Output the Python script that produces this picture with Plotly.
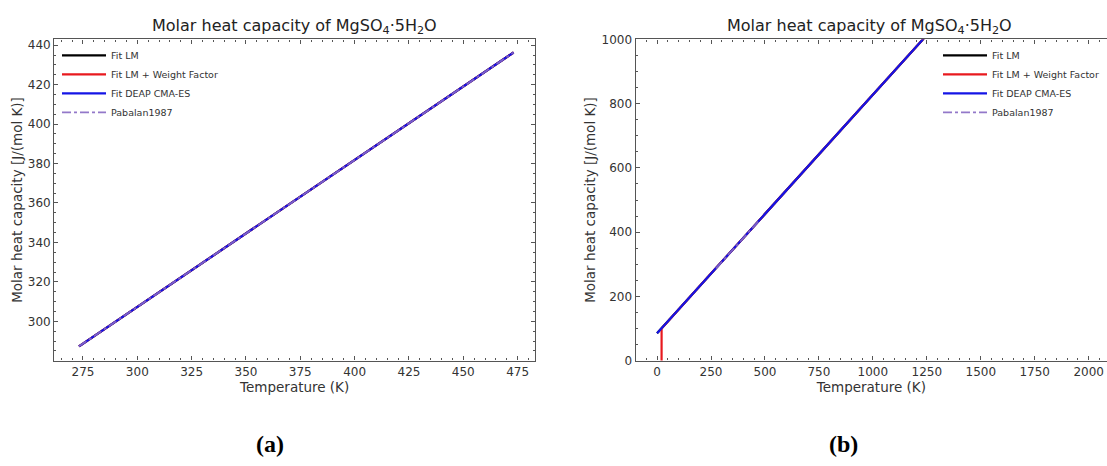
import plotly.graph_objects as go

# ---------------- data ----------------
# Panel (a): 273.15 K .. 473.15 K
temp_a = [273.15, 298.15, 323.15, 348.15, 373.15, 398.15, 423.15, 448.15, 473.15]
cp_fit_lm_a = [287.3, 305.9, 324.5, 343.2, 361.8, 380.4, 399.0, 417.7, 436.3]
cp_fit_lm_wf_a = [287.3, 305.9, 324.5, 343.2, 361.8, 380.4, 399.0, 417.7, 436.3]
cp_deap_a = [287.3, 305.9, 324.5, 343.2, 361.8, 380.4, 399.0, 417.7, 436.3]
cp_pabalan_a = [287.3, 305.9, 324.5, 343.2, 361.8, 380.4, 399.0, 417.7, 436.3]

# Panel (b): 0 K .. 2000 K
temp_b = [0, 250, 500, 750, 1000, 1250, 1500, 1750, 2000]
cp_fit_lm_b = [85.0, 270.8, 456.5, 642.3, 828.0, 1013.8, 1199.5, 1385.3, 1571.0]
temp_b_wf = [19, 21, 250, 500, 750, 1000, 1250, 1500, 1750, 2000]
cp_fit_lm_wf_b = [-2000.0, 100.0, 270.8, 456.5, 642.3, 828.0, 1013.8, 1199.5, 1385.3, 1571.0]
cp_deap_b = [85.0, 270.8, 456.5, 642.3, 828.0, 1013.8, 1199.5, 1385.3, 1571.0]
temp_pabalan_b = [273.15, 323.15, 373.15, 423.15, 473.15]
cp_pabalan_b = [287.3, 324.5, 361.8, 399.0, 436.3]

series_names = ["Fit LM", "Fit LM + Weight Factor", "Fit DEAP CMA-ES", "Pabalan1987"]
title_text = "Molar heat capacity of MgSO<sub>4</sub>·5H<sub>2</sub>O"
x_title = "Temperature (K)"
y_title = "Molar heat capacity [J/(mol K)]"

# ---------------- figure ----------------
W, H = 1107, 466
FONT = "DejaVu Sans"
C_BLACK = "#000000"
C_RED = "#e8191e"
C_BLUE = "#1414e6"
C_PURPLE = "rgba(135,105,195,0.9)"

fig = go.Figure()

def add_series(xs_list, ys_list, xa, ya, legend):
    styles = [
        dict(color=C_BLACK, width=2.2),
        dict(color=C_RED, width=2.2),
        dict(color=C_BLUE, width=2.2),
        dict(color=C_PURPLE, width=1.8, dash="dashdot"),
    ]
    for name, xs, ys, st in zip(series_names, xs_list, ys_list, styles):
        fig.add_trace(go.Scatter(x=xs, y=ys, mode="lines", name=name, line=st,
                                 xaxis=xa, yaxis=ya, legend=legend, showlegend=True))

add_series([temp_a] * 4, [cp_fit_lm_a, cp_fit_lm_wf_a, cp_deap_a, cp_pabalan_a], "x", "y", "legend")
add_series([temp_b, temp_b_wf, temp_b, temp_pabalan_b],
           [cp_fit_lm_b, cp_fit_lm_wf_b, cp_deap_b, cp_pabalan_b], "x2", "y2", "legend2")

def px_x(p):
    return p / W

def px_y(p):
    return 1 - p / H

axis_common = dict(
    showgrid=False, zeroline=False, showline=True, linecolor="#555555", linewidth=1.3,
    ticks="inside", ticklen=4, tickwidth=1, tickcolor="#555555",
    tickfont=dict(family=FONT, size=12, color="#333333"),
    minor=dict(ticks="inside", ticklen=2, tickwidth=0.8, tickcolor="#555555"),
)

ydom = [px_y(364.5), px_y(33.5)]
title_font = dict(family=FONT, size=13.5, color="#333333")

fig.update_layout(
    width=W, height=H,
    margin=dict(l=0, r=0, t=0, b=0),
    paper_bgcolor="white", plot_bgcolor="white",
    font=dict(family=FONT, color="#333333"),
    xaxis=dict(axis_common, domain=[px_x(54.3), px_x(535)], range=[261.8, 483.0],
               dtick=25, tick0=275, mirror="allticks", anchor="y",
               minor=dict(axis_common["minor"], dtick=5),
               title=dict(text=x_title, font=title_font, standoff=3)),
    yaxis=dict(axis_common, domain=ydom, range=[280.1, 442.9], dtick=20, tick0=300,
               mirror="allticks", anchor="x",
               minor=dict(axis_common["minor"], dtick=5),
               title=dict(text=y_title, font=title_font, standoff=2)),
    xaxis2=dict(axis_common, domain=[px_x(635.7), 1.0], range=[-99, 2085],
                dtick=250, tick0=0, mirror="allticks", anchor="y2",
                minor=dict(axis_common["minor"], dtick=50),
                title=dict(text=x_title, font=title_font, standoff=3)),
    yaxis2=dict(axis_common, domain=ydom, range=[0, 1000], dtick=200, tick0=0,
                mirror=False, anchor="x2",
                minor=dict(axis_common["minor"], dtick=50),
                title=dict(text=y_title, font=title_font, standoff=2)),
    legend=dict(x=px_x(57), y=px_y(35), xanchor="left", yanchor="top",
                bgcolor="rgba(0,0,0,0)", borderwidth=0,
                font=dict(family=FONT, size=9.5, color="#333333"), itemwidth=44,
                tracegroupgap=0),
    legend2=dict(x=px_x(938), y=px_y(35), xanchor="left", yanchor="top",
                 bgcolor="rgba(0,0,0,0)", borderwidth=0,
                 font=dict(family=FONT, size=9.5, color="#333333"), itemwidth=44,
                 tracegroupgap=0),
    showlegend=True,
    annotations=[
        dict(text=title_text, x=(px_x(54.3) + px_x(535)) / 2, y=px_y(20), xref="paper", yref="paper",
             showarrow=False, xanchor="center", yanchor="middle",
             font=dict(family=FONT, size=16, color="#222222")),
        dict(text=title_text, x=(px_x(635.7) + 1.0) / 2 - 0.002, y=px_y(20), xref="paper", yref="paper",
             showarrow=False, xanchor="center", yanchor="middle",
             font=dict(family=FONT, size=16, color="#222222")),
        dict(text="<b>(a)</b>", x=px_x(270), y=px_y(451), xref="paper", yref="paper",
             showarrow=False, xanchor="center", yanchor="middle",
             font=dict(family="Liberation Serif", size=24, color="#000000")),
        dict(text="<b>(b)</b>", x=px_x(843), y=px_y(451), xref="paper", yref="paper",
             showarrow=False, xanchor="center", yanchor="middle",
             font=dict(family="Liberation Serif", size=24, color="#000000")),
    ],
)

fig.write_html("out.html")
